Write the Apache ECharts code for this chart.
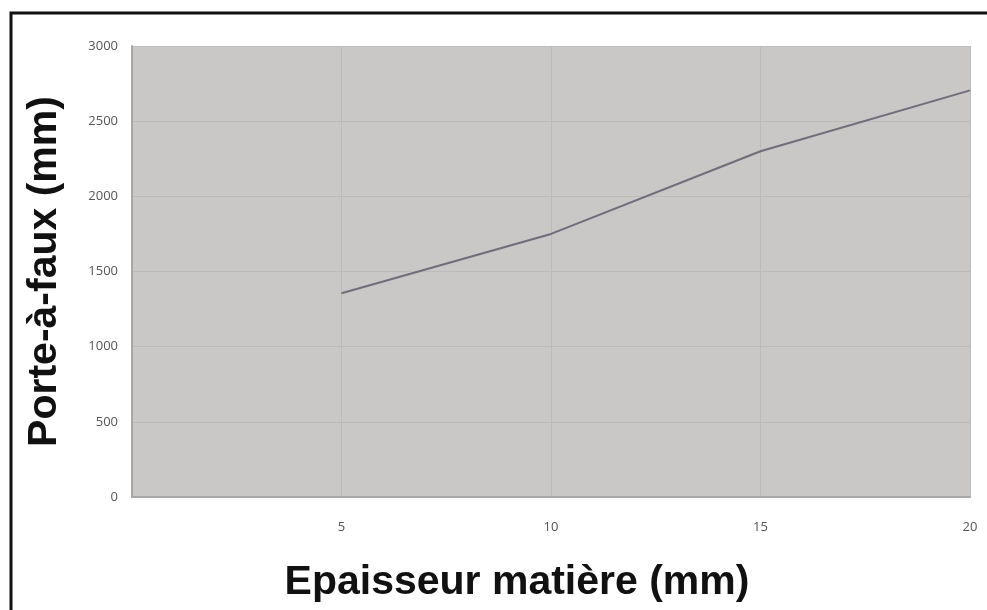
<!DOCTYPE html>
<html>
<head>
<meta charset="utf-8">
<script src="https://cdn.jsdelivr.net/npm/echarts@6/dist/echarts.min.js"></script>
<style>
  html, body { margin: 0; padding: 0; background: #fff; }
  #chart { width: 987px; height: 610px; }
</style>
</head>
<body>
<div id="chart"></div>
<script>
// épaisseur (mm) -> porte-à-faux (mm)
const epaisseur = [5, 10, 15, 20];
const porteAFaux = [1355, 1750, 2300, 2705];
const xTicks = [5, 10, 15, 20];
const yTicks = [0, 500, 1000, 1500, 2000, 2500, 3000];

const chart = echarts.init(document.getElementById('chart'));

const nameFont = 'Liberation Sans, Arial, sans-serif';

const option = {
  animation: false,
  backgroundColor: '#fff',
  graphic: [{
    type: 'polyline',
    shape: { points: [[11, 620], [11, 13], [1000, 13]] },
    style: { stroke: '#111', lineWidth: 3, fill: null },
    z: 10
  }],
  grid: {
    left: 132, top: 46, right: 17, bottom: 113,
    show: true,
    backgroundColor: '#cac7c7',
    borderWidth: 0
  },
  xAxis: {
    type: 'value',
    min: 0, max: 20, interval: 5,
    name: 'Epaisseur matière (mm)',
    nameLocation: 'middle',
    nameGap: 65,
    nameTextStyle: { fontFamily: nameFont, fontWeight: 'bold', fontSize: 41, color: '#111', padding: [0, 68, 0, 0] },
    axisLine: { lineStyle: { color: '#a9a6a6', width: 2 } },
    axisTick: { show: false },
    axisLabel: {
      color: '#555', fontSize: 13, fontFamily: 'Open Sans', margin: 24,
      formatter: v => xTicks.includes(v) ? String(v) : ''
    },
    splitLine: { show: true, lineStyle: { color: '#bdbaba', width: 1 } }
  },
  yAxis: {
    type: 'value',
    min: 0, max: 3000, interval: 500,
    name: 'Porte-à-faux (mm)',
    nameLocation: 'middle',
    nameGap: 67,
    nameTextStyle: { fontFamily: nameFont, fontWeight: 'bold', fontSize: 41, color: '#111' },
    axisLine: { show: true, lineStyle: { color: '#a9a6a6', width: 2 } },
    axisTick: { show: false },
    axisLabel: {
      color: '#555', fontSize: 13, fontFamily: 'Open Sans', margin: 14,
      formatter: v => yTicks.includes(v) ? String(v) : ''
    },
    splitLine: { show: true, lineStyle: { color: '#bdbaba', width: 1 } }
  },
  series: [{
    type: 'line',
    data: epaisseur.map((x, i) => [x, porteAFaux[i]]),
    symbol: 'none',
    smooth: false,
    lineStyle: { color: '#706d78', width: 2 }
  }]
};

chart.setOption(option);
</script>
</body>
</html>
